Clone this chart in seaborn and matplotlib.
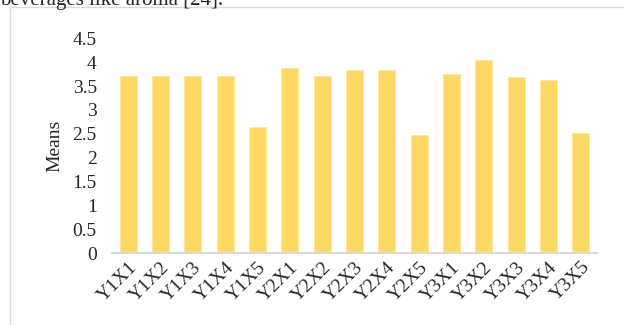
import numpy as np
import pandas as pd
import matplotlib
matplotlib.use('Agg')
import matplotlib.pyplot as plt
import seaborn as sns
from matplotlib.patches import Rectangle

# values
items = ['Y1X1', 'Y1X2', 'Y1X3', 'Y1X4', 'Y1X5',
         'Y2X1', 'Y2X2', 'Y2X3', 'Y2X4', 'Y2X5',
         'Y3X1', 'Y3X2', 'Y3X3', 'Y3X4', 'Y3X5']
means = [3.72, 3.72, 3.72, 3.72, 2.64,
         3.88, 3.72, 3.83, 3.83, 2.48,
         3.75, 4.05, 3.68, 3.62, 2.51]
yticks = [0, 0.5, 1, 1.5, 2, 2.5, 3, 3.5, 4, 4.5]
ytick_labels = ['0', '0.5', '1', '1.5', '2', '2.5', '3', '3.5', '4', '4.5']

df = pd.DataFrame({'item': items, 'mean': means})

sns.set_style('white')
plt.rcParams['font.family'] = ['Liberation Serif', 'DejaVu Serif']

fig = plt.figure(figsize=(6.24, 3.25), dpi=100)
ax = fig.add_axes([0.1795, 0.2215, 0.7772, 0.6605])

sns.barplot(data=df, x='item', y='mean', color='#FFD966', saturation=1,
            width=0.52, edgecolor='#FFE699', linewidth=0.6, ax=ax)

ax.set_ylim(0, 4.5)
ax.set_xlim(-0.5, len(items) - 0.5)
ax.set_yticks(yticks)
ax.set_yticklabels(ytick_labels, fontsize=14)
ax.set_xticks(range(len(items)))
ax.set_xticklabels(items, fontsize=14, rotation=45, ha='right',
                   rotation_mode='anchor')
ax.tick_params(axis='both', length=0)
ax.tick_params(axis='y', pad=11)
ax.tick_params(axis='x', pad=4)
ax.set_xlabel('')
ax.set_ylabel('Means', fontsize=14)
ax.yaxis.set_label_coords(-0.101, 0.5)

for side in ['top', 'right', 'left']:
    ax.spines[side].set_visible(False)
ax.spines['bottom'].set_color('#D9D9D9')
ax.spines['bottom'].set_linewidth(1.5)

# chart frame and the cut-off line of page text above it
fig.patches.append(Rectangle((10 / 624, -0.1), 1.2, 1.1 - 7 / 325,
                             transform=fig.transFigure, fill=False,
                             edgecolor='#D9D9D9', linewidth=1.0))
fig.text(0.0, 1 - 5 / 325, 'beverages like aroma [24].', fontsize=15,
         va='baseline', ha='left')

fig.savefig('out.png', dpi=100)
